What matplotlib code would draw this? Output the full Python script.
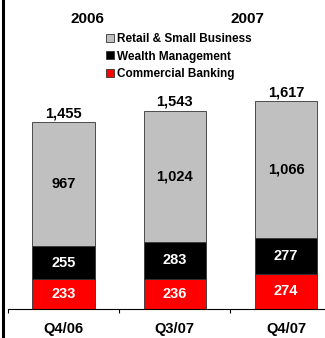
import matplotlib
matplotlib.use("Agg")
import matplotlib.pyplot as plt
from matplotlib.lines import Line2D
from matplotlib.patches import Patch
import numpy as np

plt.rcParams["font.family"] = ["Liberation Sans", "DejaVu Sans"]
plt.rcParams["font.weight"] = "bold"

quarters   = ["Q4/06", "Q3/07", "Q4/07"]
commercial = [233, 236, 274]
wealth     = [255, 283, 277]
retail     = [967, 1024, 1066]
totals     = [1455, 1543, 1617]
years      = ["2006", "2007"]

segments = [
    ("Commercial Banking", commercial, "#ff0000", "white"),
    ("Wealth Management", wealth, "#000000", "white"),
    ("Retail & Small Business", retail, "#c0c0c0", "black"),
]

W, H = 325, 338
fig = plt.figure(figsize=(W / 100, H / 100), dpi=100)
ax = fig.add_axes([8 / W, 29 / H, 317 / W, 309 / H])

x = np.arange(len(quarters))
bottom = np.zeros(len(quarters))
for label, vals, color, txt in segments:
    vals = np.array(vals, dtype=float)
    ax.bar(x, vals, 0.56, bottom=bottom, color=color,
           edgecolor="#333333", linewidth=0.6, label=label)
    for xi, b, v in zip(x, bottom, vals):
        ax.text(xi, b + v / 2, f"{int(v):,}", ha="center", va="center",
                color=txt, fontsize=10.5, fontweight="bold")
    bottom += vals

for xi, t in zip(x, totals):
    ax.text(xi, t + 15, f"{t:,}", ha="center", va="bottom",
            fontsize=10.5, fontweight="bold")

ax.set_xlim(-0.5, 2.35)
ax.set_ylim(0, 309 / 0.1285)

for s in ["top", "right", "left"]:
    ax.spines[s].set_visible(False)
ax.spines["bottom"].set_linewidth(0.8)
ax.set_yticks([])
ax.set_xticks(x)
ax.set_xticklabels(quarters, fontsize=10.5, fontweight="bold")
ax.tick_params(axis="x", which="major", length=0, pad=9)
ax.set_xticks([-0.5, 0.5, 1.5], minor=True)
ax.tick_params(axis="x", which="minor", length=3, width=0.8, direction="out")

# frame line down the left side
fig.add_artist(Line2D([2.5 / W, 2.5 / W], [0, 1], transform=fig.transFigure,
                      color="black", linewidth=2.2))

# year headers
fig.text(87 / W, 1 - 19 / H, years[0], ha="center", va="center",
         fontsize=11, fontweight="bold")
fig.text(247 / W, 1 - 19 / H, years[1], ha="center", va="center",
         fontsize=11, fontweight="bold")

handles = [Patch(facecolor=c, edgecolor="#333333", linewidth=0.6, label=l)
           for l, _, c, _ in segments[::-1]]
fig.legend(handles=handles, loc="upper left",
           bbox_to_anchor=(98 / W, 1 - 25 / H), frameon=False,
           handlelength=0.65, handleheight=0.65,
           handletextpad=0.3, labelspacing=0.45, borderpad=0.2,
           prop={"weight": "bold", "size": 8.5})

fig.savefig("out.png", dpi=100)
